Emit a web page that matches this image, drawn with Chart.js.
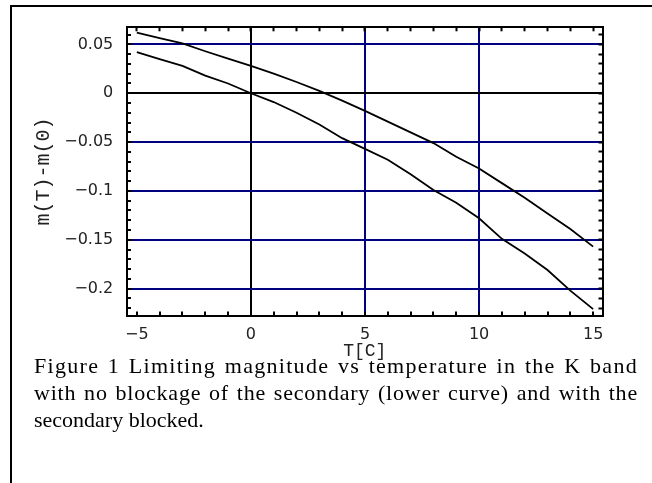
<!DOCTYPE html>
<html><head><meta charset="utf-8">
<script src="https://cdn.jsdelivr.net/npm/chart.js@4"></script>
<style>
html,body{margin:0;padding:0;background:#fff;width:652px;height:483px;overflow:hidden;}
#frame{position:absolute;left:10px;top:5px;width:700px;height:600px;border-top:2px solid #000;border-left:2px solid #000;}
#wrap{position:absolute;left:0;top:0;width:652px;height:483px;}
#cap{position:absolute;left:34px;top:352px;width:604px;font-family:"Liberation Serif","Times New Roman",serif;font-size:22px;line-height:27px;color:#000;}
#cap div{white-space:nowrap;}
#cap .j{text-align:justify;text-align-last:justify;}
#cap .l1{letter-spacing:1.3px;}
#cap .l2{letter-spacing:0.8px;}
</style></head><body>
<div id="frame"></div>
<div id="wrap"><canvas id="c" width="652" height="483"></canvas></div>
<div id="cap"><div class="j l1">Figure 1 Limiting magnitude vs temperature in the K band</div><div class="j l2">with no blockage of the secondary (lower curve) and with the</div><div>secondary blocked.</div></div>
<script>
// ---- data ----
const temperature = [-5,-4,-3,-2,-1,0,1,2,3,4,5,6,7,8,9,10,11,12,13,14,15];
const magBlocked   = [0.062,0.0565,0.051,0.043,0.0355,0.028,0.020,0.0115,0.0025,-0.0075,-0.018,-0.029,-0.040,-0.051,-0.065,-0.077,-0.092,-0.107,-0.123,-0.139,-0.157];
const magUnblocked = [0.042,0.035,0.028,0.018,0.010,0.0,-0.009,-0.020,-0.032,-0.046,-0.057,-0.068,-0.083,-0.099,-0.112,-0.128,-0.149,-0.164,-0.181,-0.202,-0.221];
const xTickLabels = [-5,0,5,10,15];
const yTickLabels = [-0.2,-0.15,-0.1,-0.05,0,0.05];
const xTitle = 'T[C]';
const yTitle = 'm(T)-m(0)';

// ---- styling helpers ----
const NAVY = '#000080';
const CLEAR = 'rgba(0,0,0,0)';
const near = (a,b) => Math.abs(a-b) < 1e-9;
const inList = (arr,v) => arr.some(t => near(t,v));
const fmt = v => String(Math.round(v*100)/100).replace('-', '\u2212');
const xInner = xTickLabels.slice(1,-1);
const X_MIN = -5.43, X_MAX = 15.41, Y_MIN = -0.2275, Y_MAX = 0.0675;
const tickFont = {family:'DejaVu Sans', size:16};

function gridColor(list){
  return ctx => {
    const v = ctx.tick ? ctx.tick.value : undefined;
    if (v === undefined || !inList(list, v)) return CLEAR;
    return near(v,0) ? '#000' : NAVY;
  };
}

new Chart(document.getElementById('c'), {
  type: 'line',
  data: {
    datasets: [
      {data: temperature.map((t,i)=>({x:t,y:magBlocked[i]})), borderColor:'#000', borderWidth:1.8, pointRadius:0, tension:0, fill:false},
      {data: temperature.map((t,i)=>({x:t,y:magUnblocked[i]})), borderColor:'#000', borderWidth:1.8, pointRadius:0, tension:0, fill:false}
    ]
  },
  options: {
    responsive:false, animation:false, devicePixelRatio:1,
    layout:{padding:{left:0, top:20, right:49.5, bottom:0}},
    plugins:{legend:{display:false}, tooltip:{enabled:false}},
    scales:{
      x:{
        type:'linear', position:'bottom', min:X_MIN, max:X_MAX,
        afterFit: s => { s.height = 167.5; },
        ticks:{stepSize:1, includeBounds:false, autoSkip:false, maxRotation:0, padding:14, color:'#222', font:tickFont,
          callback: v => inList(xTickLabels, v) ? fmt(v) : ''},
        grid:{drawTicks:true, tickLength:-4, tickColor:'#000', tickWidth:2, lineWidth:2, color: gridColor(xInner)},
        border:{display:true, color:'#000', width:2},
        title:{display:true, text:xTitle, color:'#222', font:{family:'Liberation Mono', size:18}, padding:{top:0, bottom:120.7}}
      },
      x2:{
        type:'linear', position:'top', min:X_MIN, max:X_MAX,
        afterFit: s => { s.height = 0; },
        ticks:{display:false, stepSize:1, includeBounds:false, autoSkip:false},
        grid:{drawOnChartArea:false, drawTicks:true, tickLength:-4, tickColor:'#000', tickWidth:2},
        border:{display:true, color:'#000', width:2}
      },
      y:{
        type:'linear', position:'left', min:Y_MIN, max:Y_MAX,
        afterFit: s => { s.width = 127; },
        ticks:{stepSize:0.01, includeBounds:false, autoSkip:false, padding:17.7, color:'#222', font:tickFont,
          callback: v => inList(yTickLabels, v) ? fmt(v) : ''},
        grid:{drawTicks:true, tickLength:-4, tickColor:'#000', tickWidth:2, lineWidth:2, color: gridColor(yTickLabels)},
        border:{display:true, color:'#000', width:2},
        title:{display:true, text:yTitle, color:'#222', font:{family:'Liberation Mono', size:20}, padding:{top:31.5, bottom:0}}
      },
      y2:{
        type:'linear', position:'right', min:Y_MIN, max:Y_MAX,
        afterFit: s => { s.width = 0; },
        ticks:{display:false, stepSize:0.01, includeBounds:false, autoSkip:false},
        grid:{drawOnChartArea:false, drawTicks:true, tickLength:-4, tickColor:'#000', tickWidth:2},
        border:{display:true, color:'#000', width:2}
      }
    }
  }
});
</script>
</body></html>
